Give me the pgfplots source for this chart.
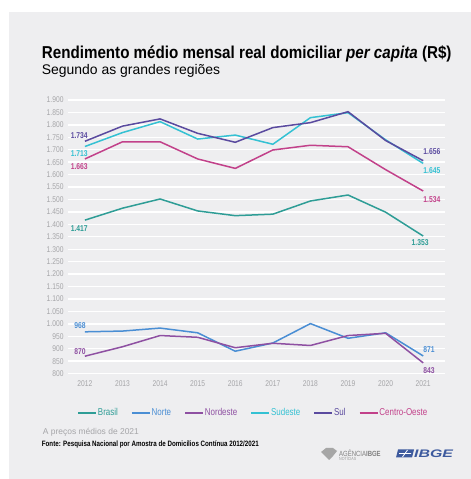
\documentclass[border=0pt]{standalone}
\usepackage{fontspec}
\setmainfont{Liberation Sans}
\newfontfamily\cond{Liberation Sans}[FakeStretch=0.8]
\newfontfamily\tcond{Liberation Sans}[FakeStretch=0.88]
\usepackage{pgfplots}
\pgfplotsset{compat=1.18}
\definecolor{bgc}{HTML}{EEEEF0}
\definecolor{brasil}{HTML}{2E9D96}
\definecolor{norte}{HTML}{4A8ED4}
\definecolor{nordeste}{HTML}{8E50A2}
\definecolor{sudeste}{HTML}{34C1D3}
\definecolor{sul}{HTML}{5A4A9F}
\definecolor{centro}{HTML}{C2418A}
\definecolor{tickg}{HTML}{A5A5A8}
\definecolor{ibgeblue}{HTML}{3D5A9E}
\tikzset{lbl/.style={font=\cond\bfseries\fontsize{8.5}{9}\selectfont, inner sep=0pt}}
\begin{document}
\begin{tikzpicture}
\path[use as bounding box] (0,0) rectangle (471bp,479bp);
\fill[white] (0,0) rectangle (471bp,479bp);
\fill[bgc] (9bp,0) rectangle (471bp,467bp);
\node[anchor=base west, inner sep=0pt, font=\tcond\bfseries\fontsize{17.3}{19}\selectfont] at (41.7bp,420.7bp) {Rendimento médio mensal real domiciliar \textit{per capita} (R\$)};
\node[anchor=base west, inner sep=0pt, font=\fontsize{14}{16}\selectfont] at (41.7bp,404.7bp) {Segundo as grandes regiões};
\begin{axis}[
  at={(68bp,105.4bp)}, anchor=south west, scale only axis,
  width=377bp, height=273.6bp,
  xmin=2011.55, xmax=2021.58, ymin=800, ymax=1900,
  axis x line*=bottom, axis y line*=left,
  axis line style={draw=none}, major tick style={draw=none},
  ymajorgrids, grid style={white, line width=1.4bp},
  xtick={2012,...,2021}, ytick={800,850,...,1900},
  /pgf/number format/assume math mode=true,
  x tick label style={/pgf/number format/1000 sep={}, font=\cond\fontsize{8.4}{10}\selectfont, text=tickg, yshift=-4bp},
  y tick label style={/pgf/number format/1000 sep={.}, font=\cond\fontsize{8.4}{10}\selectfont, text=tickg, xshift=-1bp},
  every axis plot/.append style={line width=1.5bp},
  legend columns=6,
  legend style={at={(0.49,-0.143)}, anchor=center, draw=none, fill=none,
    font=\cond\fontsize{10}{12}\selectfont,
    /tikz/every even column/.append style={column sep=12bp},
    nodes={inner sep=1bp}},
  legend image code/.code={\draw[#1, line width=1.8bp] (0bp,0bp) -- (18bp,0bp);},
]
\addplot[brasil] coordinates {(2012,1417)(2013,1465)(2014,1502)(2015,1454)(2016,1435)(2017,1441)(2018,1494)(2019,1518)(2020,1449)(2021,1353)};
\addlegendentry{\textcolor{brasil}{Brasil}}
\addplot[norte] coordinates {(2012,968)(2013,971)(2014,983)(2015,964)(2016,890)(2017,923)(2018,1001)(2019,942)(2020,964)(2021,871)};
\addlegendentry{\textcolor{norte}{Norte}}
\addplot[nordeste] coordinates {(2012,870)(2013,908)(2014,953)(2015,946)(2016,904)(2017,922)(2018,913)(2019,953)(2020,962)(2021,843)};
\addlegendentry{\textcolor{nordeste}{Nordeste}}
\addplot[sudeste] coordinates {(2012,1713)(2013,1769)(2014,1813)(2015,1743)(2016,1759)(2017,1722)(2018,1829)(2019,1849)(2020,1740)(2021,1645)};
\addlegendentry{\textcolor{sudeste}{Sudeste}}
\addplot[sul] coordinates {(2012,1734)(2013,1795)(2014,1824)(2015,1766)(2016,1730)(2017,1789)(2018,1809)(2019,1853)(2020,1737)(2021,1656)};
\addlegendentry{\textcolor{sul}{Sul}}
\addplot[centro] coordinates {(2012,1663)(2013,1732)(2014,1732)(2015,1663)(2016,1625)(2017,1699)(2018,1718)(2019,1712)(2020,1620)(2021,1534)};
\addlegendentry{\textcolor{centro}{Centro-Oeste}}
\node[lbl, text=sul, anchor=east, xshift=3bp, yshift=6bp] at (axis cs:2012,1734) {1.734};
\node[lbl, text=sudeste, anchor=east, xshift=3bp, yshift=-7bp] at (axis cs:2012,1713) {1.713};
\node[lbl, text=centro, anchor=east, xshift=3bp, yshift=-8bp] at (axis cs:2012,1663) {1.663};
\node[lbl, text=brasil, anchor=east, xshift=3bp, yshift=-8bp] at (axis cs:2012,1417) {1.417};
\node[lbl, text=norte, anchor=east, xshift=1bp, yshift=6bp] at (axis cs:2012,968) {968};
\node[lbl, text=nordeste, anchor=east, xshift=1bp, yshift=5bp] at (axis cs:2012,870) {870};
\node[lbl, text=sul, anchor=west, yshift=9bp] at (axis cs:2021,1656) {1.656};
\node[lbl, text=sudeste, anchor=west, yshift=-7bp] at (axis cs:2021,1645) {1.645};
\node[lbl, text=centro, anchor=west, yshift=-9bp] at (axis cs:2021,1534) {1.534};
\node[lbl, text=brasil, anchor=center, xshift=-3bp, yshift=-7bp] at (axis cs:2021,1353) {1.353};
\node[lbl, text=norte, anchor=west, yshift=6bp] at (axis cs:2021,871) {871};
\node[lbl, text=nordeste, anchor=west, yshift=-8bp] at (axis cs:2021,843) {843};
\end{axis}
\node[anchor=base west, inner sep=0pt, text=tickg, font=\fontsize{8.5}{9}\selectfont] at (42.7bp,44.5bp) {A preços médios de 2021};
\node[anchor=base west, inner sep=0pt, font=\cond\bfseries\fontsize{7.8}{8}\selectfont] at (41.7bp,32.5bp) {Fonte: Pesquisa Nacional por Amostra de Domicílios Contínua 2012/2021};
% logos
\fill[gray!70] (321bp,27bp) -- (326bp,31bp) -- (333bp,31bp) -- (337bp,28bp) -- (333bp,23bp) -- (329bp,19bp) -- (326bp,22bp) -- cycle;
\node[anchor=west, inner sep=0pt, text=gray, font=\cond\fontsize{7.5}{8}\selectfont] at (339bp,25.5bp) {AGÊNCIA\textbf{IBGE}};
\node[anchor=west, inner sep=0pt, text=gray!80, font=\cond\fontsize{4.5}{5}\selectfont] at (339bp,20bp) {NOTÍCIAS};
\fill[ibgeblue] (396bp,21.5bp) -- (412bp,21.5bp) -- (414bp,29.5bp) -- (398bp,29.5bp) -- cycle;
\draw[white, line width=0.8bp] (402.5bp,22bp) -- (407.5bp,29bp) (399bp,25.5bp) -- (411bp,25.5bp);
\node[anchor=west, inner sep=0pt, text=ibgeblue, font=\bfseries\itshape\fontsize{11}{12}\selectfont] at (414bp,25.5bp) {\scalebox{1.45}[1]{IBGE}};
\end{tikzpicture}
\end{document}
